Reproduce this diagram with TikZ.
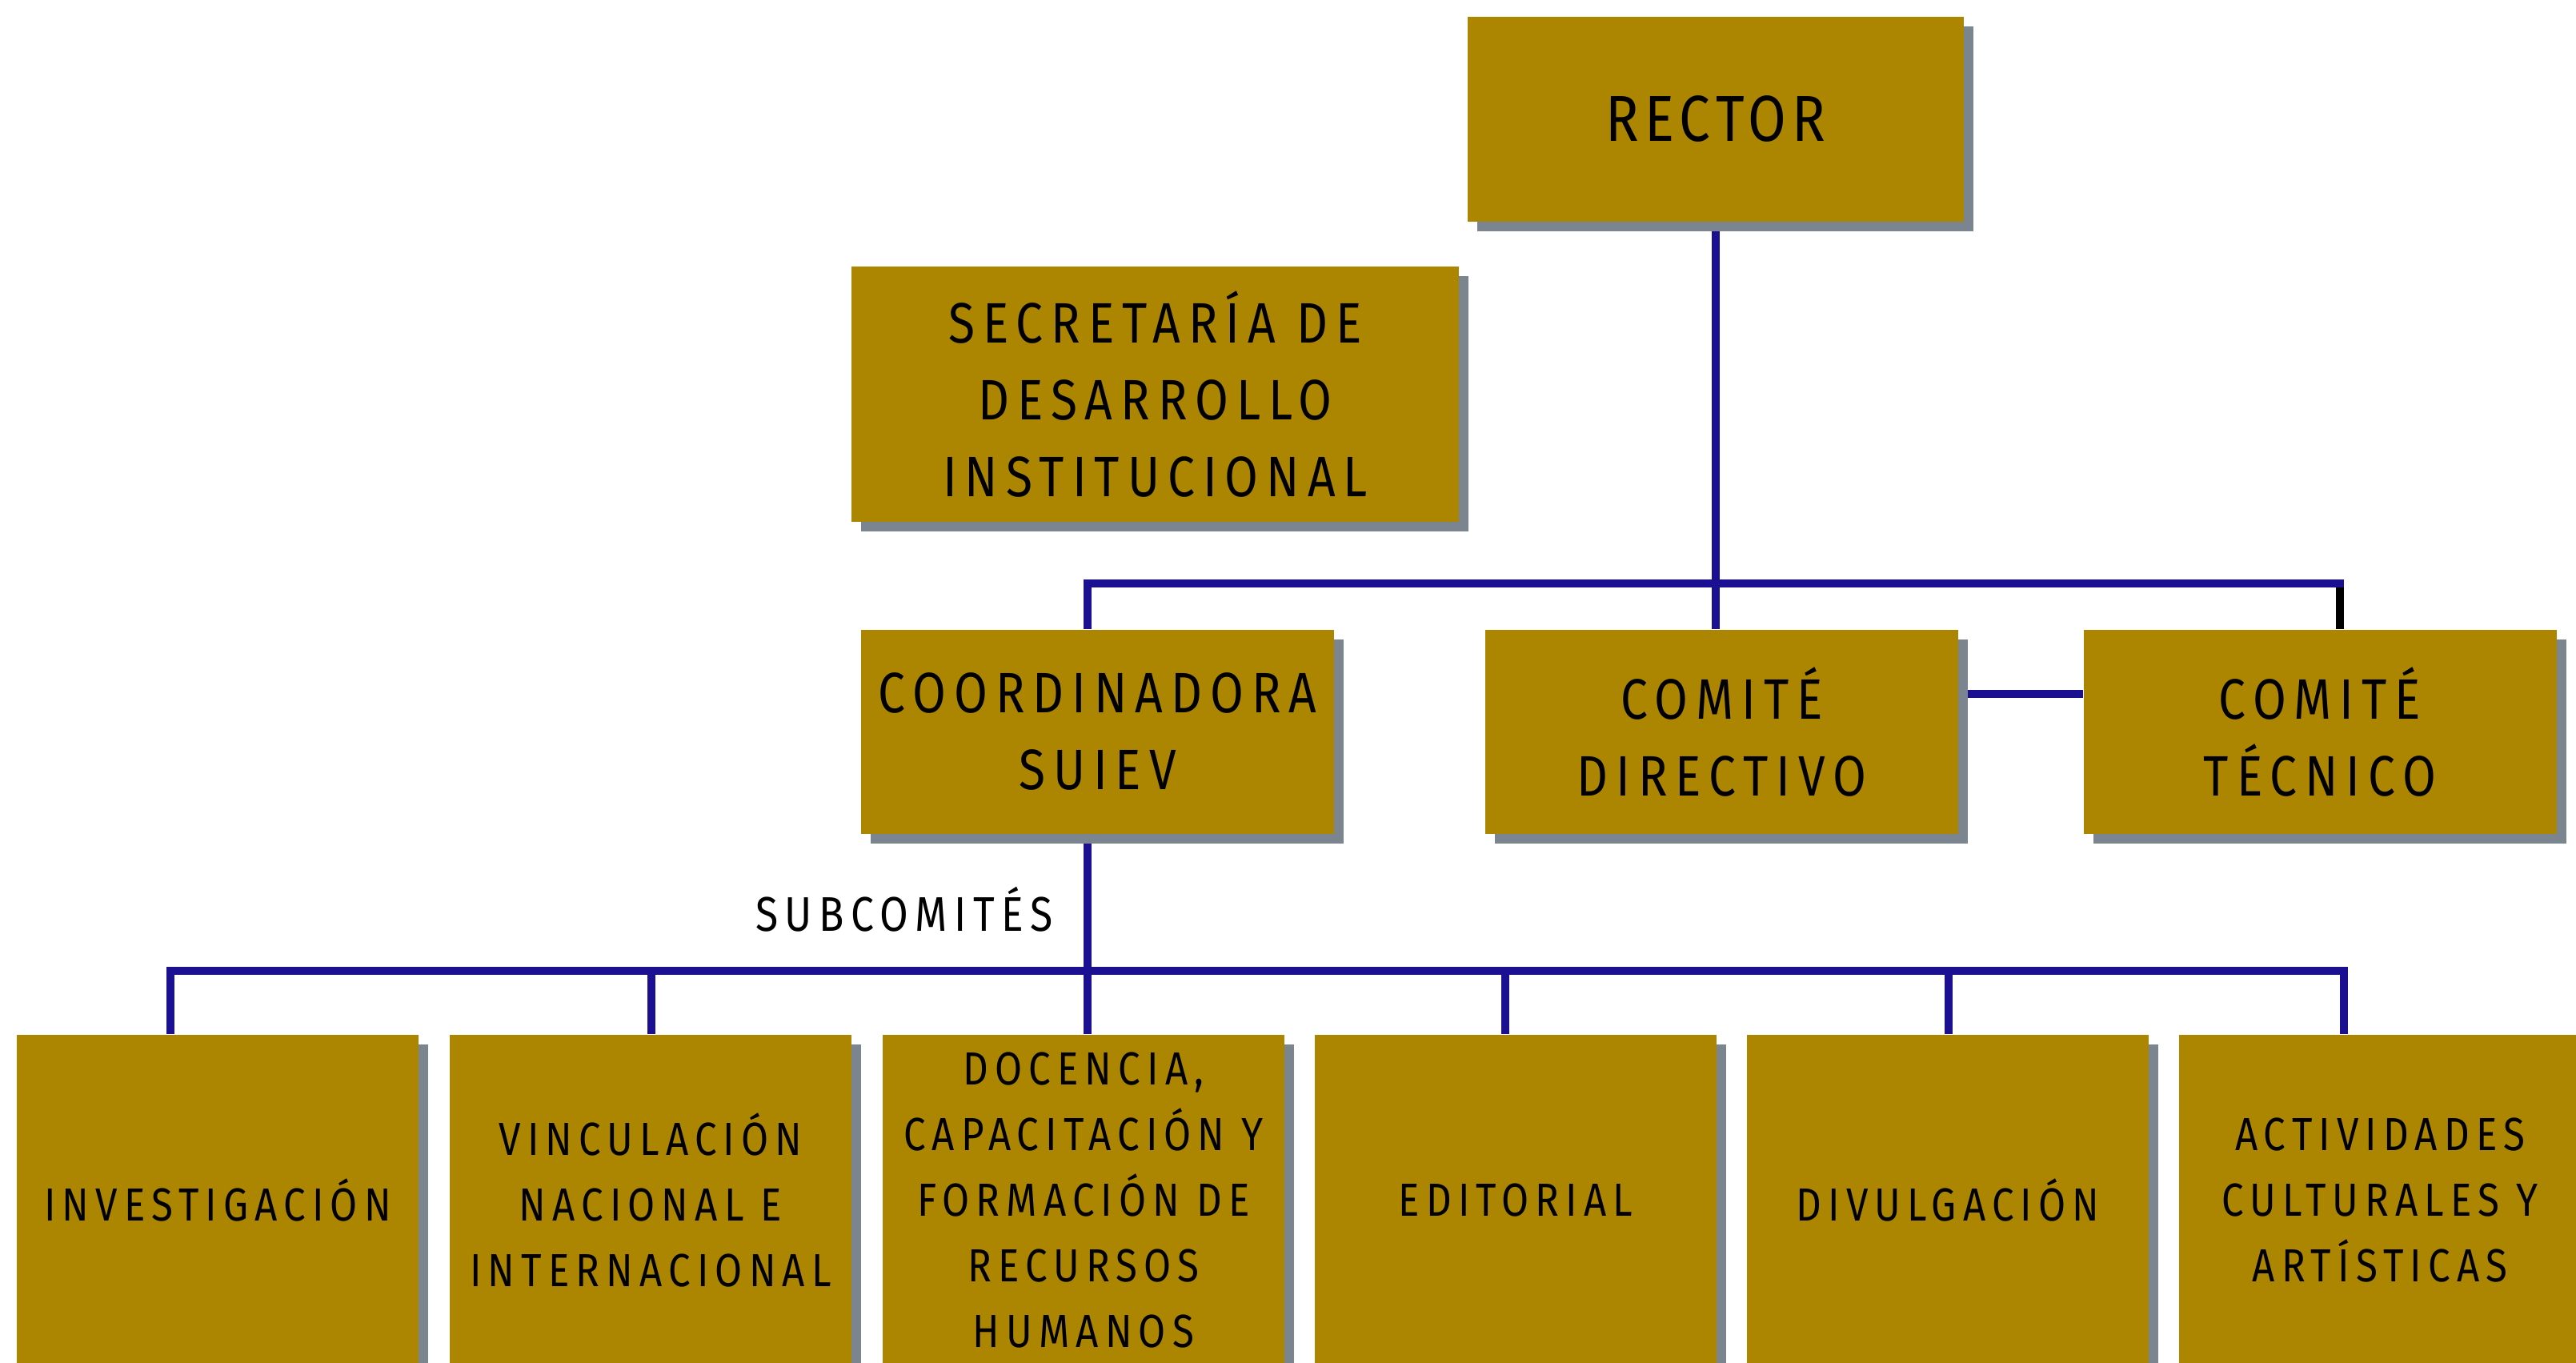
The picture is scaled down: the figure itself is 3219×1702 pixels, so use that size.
\documentclass[tikz,border=0pt]{standalone}
\usepackage{fontspec}
\setmainfont{Fira Sans}[FakeStretch=0.85,LetterSpace=14]
\newfontfamily\rectorfont{Fira Sans}[FakeStretch=0.85,LetterSpace=9]
\usetikzlibrary{shadows,backgrounds}
\definecolor{gold}{RGB}{172,134,0}
\definecolor{shadowgray}{RGB}{123,133,143}
\definecolor{lineblue}{RGB}{26,16,145}
\begin{document}
\begin{tikzpicture}[x=0.25pt,y=-0.25pt,
  box/.style={rectangle, fill=gold, inner sep=0pt, align=center, text=black,
    drop shadow={shadow xshift=3pt, shadow yshift=-3pt, fill=shadowgray, opacity=1}},
  bigtxt/.style={font=\rectorfont\fontsize{20.3}{26}\selectfont},
  midtxt/.style={font=\fontsize{17.8}{24}\selectfont},
  smalltxt/.style={font=\fontsize{14.5}{20.5}\selectfont},
  midbox/.style={box, midtxt, minimum width=147.75pt, minimum height=63.75pt},
  botbox/.style={box, smalltxt, minimum width=125.5pt, minimum height=103pt},
  conn/.style={draw=lineblue, line width=2.5pt}]
\useasboundingbox (0,0) rectangle (3219,1702);

\node[box, bigtxt, minimum width=155pt, minimum height=64pt] (rector) at (2144,149) {RECTOR};
\node[box, midtxt, minimum width=189.75pt, minimum height=79.75pt] (secr) at (1443.5,492.5)
  {SECRETARÍA DE\\DESARROLLO\\INSTITUCIONAL};
\node[midbox] (coordn) at (1371.5,914) {COORDINADORA\\SUIEV};
\node[midbox] (dir) at (2151.5,914) {COMITÉ\\DIRECTIVO};
\node[midbox] (tec) at (2899,914) {COMITÉ\\TÉCNICO};

\node[botbox] (b1) at (272,1499) {INVESTIGACIÓN};
\node[botbox] (b2) at (813,1499) {VINCULACIÓN\\NACIONAL E\\INTERNACIONAL};
\node[botbox] (b3) at (1354,1499) {DOCENCIA,\\CAPACITACIÓN Y\\FORMACIÓN DE\\RECURSOS\\HUMANOS};
\node[botbox] (b4) at (1894,1499) {EDITORIAL};
\node[botbox] (b5) at (2434,1499) {DIVULGACIÓN};
\node[botbox] (b6) at (2974,1499) {ACTIVIDADES\\CULTURALES Y\\ARTÍSTICAS};

\node[anchor=base east, inner sep=0pt, font=\fontsize{15.2}{18}\selectfont] (sub) at (1316,1163) {SUBCOMITÉS};

\coordinate (busA) at (1359,729);
\coordinate (busB) at (2929,729);
\coordinate (tecDrop) at (2924,724);
\coordinate (hy) at (0,867);
\coordinate (d1) at (213,1213);
\coordinate (d2) at (814,1213);
\coordinate (d3) at (1359,1213);
\coordinate (d4) at (1881,1213);
\coordinate (d5) at (2435,1213);
\coordinate (d6) at (2929,1213);

\begin{scope}[on background layer]
  \draw[black, line width=2.5pt] (tecDrop) -- (tecDrop |- tec.north);
  \draw[conn] (coordn.north -| busA) -- (busA) -- (busB);
  \draw[conn] (rector.south) -- (rector.south |- dir.north);
  \draw[conn] (dir.east |- hy) -- (tec.west |- hy);
  \draw[conn] (coordn.south -| d3) -- (d3);
  \draw[conn] (b1.north -| d1) -- (d1) -- (d6) -- (b6.north -| d6);
  \draw[conn] (d2) -- (b2.north -| d2);
  \draw[conn] (d3) -- (b3.north -| d3);
  \draw[conn] (d4) -- (b4.north -| d4);
  \draw[conn] (d5) -- (b5.north -| d5);
\end{scope}
\end{tikzpicture}
\end{document}
